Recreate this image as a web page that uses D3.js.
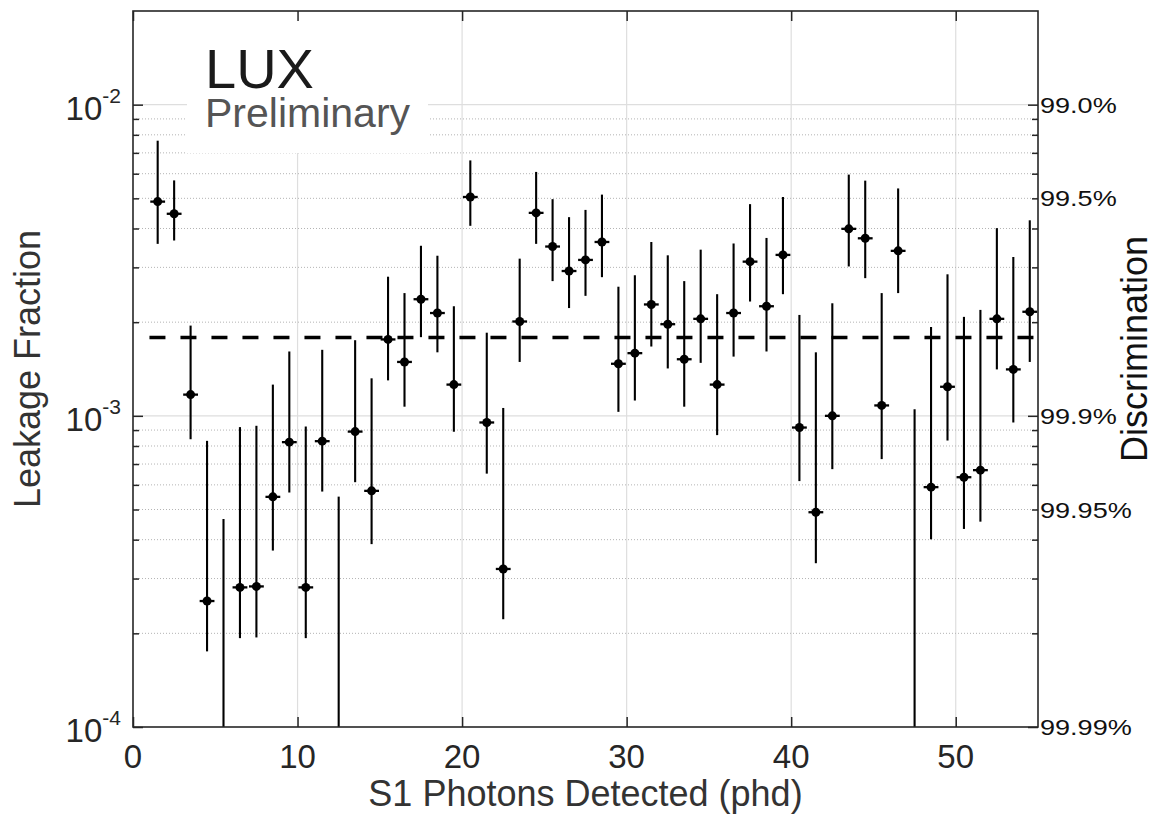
<!DOCTYPE html>
<html>
<head>
<meta charset="utf-8">
<script src="https://cdn.jsdelivr.net/npm/d3@7"></script>
<style>
  html, body { margin: 0; padding: 0; background: #fff; }
  svg { display: block; font-family: "Liberation Sans", Arial, Helvetica, sans-serif; }
</style>
</head>
<body>
<svg id="chart" width="1154" height="816"></svg>
<script>
// ---- Data ----
const binCenters = [1.5,2.5,3.5,4.5,5.5,6.5,7.5,8.5,9.5,10.5,11.5,12.5,13.5,14.5,15.5,16.5,17.5,18.5,19.5,20.5,
  21.5,22.5,23.5,24.5,25.5,26.5,27.5,28.5,29.5,30.5,31.5,32.5,33.5,34.5,35.5,36.5,37.5,38.5,39.5,40.5,
  41.5,42.5,43.5,44.5,45.5,46.5,47.5,48.5,49.5,50.5,51.5,52.5,53.5,54.5];
// central leakage fraction (null = no point, upper limit only)
const leakage = [4.88e-3,4.46e-3,1.17e-3,2.54e-4,null,2.81e-4,2.83e-4,5.49e-4,8.23e-4,2.81e-4,
  8.29e-4,null,8.90e-4,5.74e-4,1.76e-3,1.49e-3,2.37e-3,2.14e-3,1.26e-3,5.05e-3,
  9.52e-4,3.22e-4,2.01e-3,4.49e-3,3.50e-3,2.92e-3,3.17e-3,3.62e-3,1.47e-3,1.59e-3,
  2.28e-3,1.97e-3,1.52e-3,2.05e-3,1.26e-3,2.14e-3,3.13e-3,2.25e-3,3.29e-3,9.17e-4,
  4.90e-4,1.00e-3,3.99e-3,3.72e-3,1.08e-3,3.39e-3,null,5.90e-4,1.24e-3,6.35e-4,
  6.69e-4,2.05e-3,1.41e-3,2.16e-3];
// upper end of error bar
const errHigh = [7.66e-3,5.71e-3,1.95e-3,8.31e-4,4.66e-4,9.20e-4,9.29e-4,1.26e-3,1.61e-3,9.24e-4,
  1.63e-3,5.50e-4,1.75e-3,1.32e-3,2.80e-3,2.48e-3,3.52e-3,3.27e-3,2.25e-3,6.62e-3,
  1.85e-3,1.06e-3,3.20e-3,6.08e-3,4.97e-3,4.35e-3,4.59e-3,5.14e-3,2.60e-3,2.83e-3,
  3.62e-3,3.28e-3,2.71e-3,3.42e-3,2.46e-3,3.58e-3,4.79e-3,3.73e-3,5.05e-3,2.11e-3,
  1.60e-3,2.30e-3,5.96e-3,5.70e-3,2.48e-3,5.38e-3,1.05e-3,1.93e-3,2.85e-3,2.08e-3,
  2.19e-3,4.01e-3,3.24e-3,4.25e-3];
// lower end of error bar (null = extends to the bottom of the axis)
const errLow = [3.57e-3,3.66e-3,8.41e-4,1.75e-4,null,1.93e-4,1.94e-4,3.69e-4,5.67e-4,1.93e-4,
  5.71e-4,null,6.12e-4,3.87e-4,1.30e-3,1.07e-3,1.79e-3,1.60e-3,8.89e-4,4.08e-3,
  6.52e-4,2.22e-4,1.49e-3,3.57e-3,2.71e-3,2.22e-3,2.43e-3,2.79e-3,1.03e-3,1.12e-3,
  1.67e-3,1.42e-3,1.07e-3,1.48e-3,8.67e-4,1.55e-3,2.33e-3,1.61e-3,2.46e-3,6.17e-4,
  3.36e-4,6.74e-4,3.02e-3,2.77e-3,7.26e-4,2.48e-3,null,4.01e-4,8.33e-4,4.33e-4,
  4.57e-4,1.41e-3,9.52e-4,1.49e-3];
const binHalfWidth = 0.45;
const meanLeakage = 1.785e-3;
const meanRange = [1, 55];

const xTicks = [0,10,20,30,40,50];
const yMajorTicks = [1e-4,1e-3,1e-2];
const yMajorExp = ["-4","-3","-2"];
const yMinorTicks = [2e-4,3e-4,4e-4,5e-4,6e-4,7e-4,8e-4,9e-4,2e-3,3e-3,4e-3,5e-3,6e-3,7e-3,8e-3,9e-3];
const discLeak = [1e-2,5e-3,1e-3,5e-4,1e-4];
const discLabels = ["99.0%","99.5%","99.9%","99.95%","99.99%"];

// ---- Layout ----
const svg = d3.select("#chart");
const L = 133, R = 1038, T = 11, B = 727;
const x = d3.scaleLinear().domain([0,55]).range([L,R]);
const y = d3.scaleLog().domain([1e-4,2e-2]).range([B,T]);
const axisColor = "#262626";

// grid
const grid = svg.append("g");
grid.selectAll(".vg").data(xTicks.filter(d=>d>0)).join("line")
  .attr("x1",d=>x(d)).attr("x2",d=>x(d)).attr("y1",T).attr("y2",B)
  .attr("stroke","#dedede").attr("stroke-width",1.2);
grid.selectAll(".hg").data(yMajorTicks.filter(d=>d>1e-4)).join("line")
  .attr("x1",L).attr("x2",R).attr("y1",d=>y(d)).attr("y2",d=>y(d))
  .attr("stroke","#dedede").attr("stroke-width",1.2);
grid.selectAll(".mg").data(yMinorTicks).join("line")
  .attr("x1",L).attr("x2",R).attr("y1",d=>y(d)).attr("y2",d=>y(d))
  .attr("stroke","#b4b4b4").attr("stroke-width",1).attr("stroke-dasharray","1,2");

// white box behind the LUX label
svg.append("rect").attr("x",187).attr("y",T).attr("width",241).attr("height",142).attr("fill","#fff");
svg.append("text").attr("x",205).attr("y",88).attr("font-size",56).attr("fill","#1a1a1a").text("LUX");
svg.append("text").attr("x",205).attr("y",127).attr("font-size",41).attr("fill","#555").text("Preliminary");

// dashed mean line
svg.append("line")
  .attr("x1",x(meanRange[0])).attr("x2",x(meanRange[1]))
  .attr("y1",y(meanLeakage)).attr("y2",y(meanLeakage))
  .attr("stroke","#000").attr("stroke-width",3.4).attr("stroke-dasharray","16,15");

// data
const pts = binCenters.map((c,i)=>({c, v:leakage[i], hi:errHigh[i], lo:errLow[i]}));
const dg = svg.append("g");
dg.selectAll(".eb").data(pts).join("line")
  .attr("x1",d=>x(d.c)).attr("x2",d=>x(d.c))
  .attr("y1",d=>y(d.hi)).attr("y2",d=>d.lo===null? B : y(d.lo))
  .attr("stroke","#000").attr("stroke-width",2.1);
const withV = pts.filter(d=>d.v!==null);
dg.selectAll(".hb").data(withV).join("line")
  .attr("x1",d=>x(d.c-binHalfWidth)).attr("x2",d=>x(d.c+binHalfWidth))
  .attr("y1",d=>y(d.v)).attr("y2",d=>y(d.v))
  .attr("stroke","#000").attr("stroke-width",2.3);
dg.selectAll(".pt").data(withV).join("circle")
  .attr("cx",d=>x(d.c)).attr("cy",d=>y(d.v)).attr("r",4.5).attr("fill","#000");

// axes
function styleAxis(g){
  g.select(".domain").remove();
  g.selectAll(".tick line").attr("stroke",axisColor).attr("stroke-width",1.5);
}
svg.append("g").attr("transform",`translate(0,${B})`)
  .call(d3.axisBottom(x).tickValues(xTicks).tickSize(-10).tickFormat(""))
  .call(styleAxis);
svg.append("g").attr("transform",`translate(0,${T})`)
  .call(d3.axisTop(x).tickValues(xTicks).tickSize(-10).tickFormat(""))
  .call(styleAxis);
svg.append("g").attr("transform",`translate(${L},0)`)
  .call(d3.axisLeft(y).tickValues(yMajorTicks).tickSize(-10).tickFormat(""))
  .call(styleAxis);
svg.append("g").attr("transform",`translate(${L},0)`)
  .call(d3.axisLeft(y).tickValues(yMinorTicks).tickSize(-6).tickFormat(""))
  .call(styleAxis);
svg.append("g").attr("transform",`translate(${R},0)`)
  .call(d3.axisRight(y).tickValues(yMajorTicks).tickSize(-10).tickFormat(""))
  .call(styleAxis);
svg.append("g").attr("transform",`translate(${R},0)`)
  .call(d3.axisRight(y).tickValues(yMinorTicks).tickSize(-6).tickFormat(""))
  .call(styleAxis);

// frame
svg.append("rect").attr("x",L).attr("y",T).attr("width",R-L).attr("height",B-T)
  .attr("fill","none").attr("stroke",axisColor).attr("stroke-width",1.6);

// x tick labels
svg.append("g").selectAll("text").data(xTicks).join("text")
  .attr("x",d=>x(d)).attr("y",B+41).attr("text-anchor","middle")
  .attr("font-size",33).attr("fill",axisColor).text(d=>d);

// y tick labels (10^n)
const yl = svg.append("g").selectAll("text").data(yMajorTicks).join("text")
  .attr("x",L-12).attr("y",d=>y(d)+15).attr("text-anchor","end")
  .attr("font-size",33).attr("fill",axisColor);
yl.append("tspan").text("10");
yl.append("tspan").attr("font-size",21).attr("dy",-17).text((d,i)=>yMajorExp[i]);

// right discrimination labels
svg.append("g").selectAll("text").data(discLeak).join("text")
  .attr("transform",d=>`translate(${R+2},${y(d)+8}) scale(1.23,1)`)
  .attr("font-size",22).attr("fill","#111").text((d,i)=>discLabels[i]);

// axis titles
svg.append("text").attr("x",(L+R)/2).attr("y",806).attr("text-anchor","middle")
  .attr("font-size",36).attr("fill","#333").text("S1 Photons Detected (phd)");
svg.append("text").attr("transform",`translate(40,${(T+B)/2}) rotate(-90)`)
  .attr("text-anchor","middle").attr("font-size",36).attr("fill","#333").text("Leakage Fraction");
svg.append("text").attr("transform",`translate(1147,349) rotate(-90)`)
  .attr("text-anchor","middle").attr("font-size",36).attr("fill","#111").text("Discrimination");
</script>
</body>
</html>
